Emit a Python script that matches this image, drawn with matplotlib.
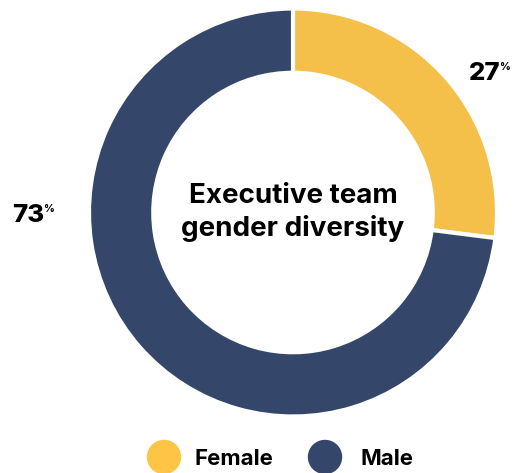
import matplotlib
matplotlib.use('Agg')
import matplotlib.pyplot as plt

labels = ['Female', 'Male']
shares = [27, 73]
colors = ['#F4C04A', '#34476A']
legend_colors = ['#FEC446', '#34476A']

W, H = 513, 473
plt.rcParams['font.family'] = ['Inter', 'DejaVu Sans']

fig = plt.figure(figsize=(W / 100, H / 100), dpi=100)

# donut: centre (293, 212) px from top-left, outer radius ~204 px
cx, cy, r = 293, 212.5, 204
ax = fig.add_axes([(cx - r) / W, 1 - (cy + r) / H, 2 * r / W, 2 * r / H])
ax.pie(shares, colors=colors, startangle=90, counterclock=False,
       radius=1, wedgeprops=dict(width=0.315, edgecolor='white', linewidth=3))
ax.set_xlim(-1, 1)
ax.set_ylim(-1, 1)
ax.set_aspect('equal')
ax.axis('off')

ax.text(0, 0, "Executive team\ngender diversity", ha='center', va='center',
        fontsize=20, fontweight='bold', linespacing=1.25, color='black')


def pct_label(x, y, value):
    t = fig.text(x / W, 1 - y / H, str(value), ha='left', va='baseline',
                 fontsize=18.5, fontweight='heavy')
    fig.canvas.draw()
    bb = t.get_window_extent()
    fig.text((bb.x1 - 1) / W, 1 - (y - 10) / H, '%', ha='left', va='baseline',
             fontsize=7.5, fontweight='heavy')


pct_label(469, 80, shares[0])
pct_label(12, 222, shares[1])

# legend
legend_x = [164, 325]
text_x = [195, 360]
ly = 457
for i, lab in enumerate(labels):
    fig.add_artist(matplotlib.patches.Ellipse(
        (legend_x[i] / W, 1 - ly / H), 33 / W, 33 / H,
        transform=fig.transFigure, color=legend_colors[i]))
    fig.text(text_x[i] / W, 1 - ly / H, lab, ha='left', va='center_baseline',
             fontsize=16, fontweight='bold')

fig.savefig('out.png', dpi=100)
